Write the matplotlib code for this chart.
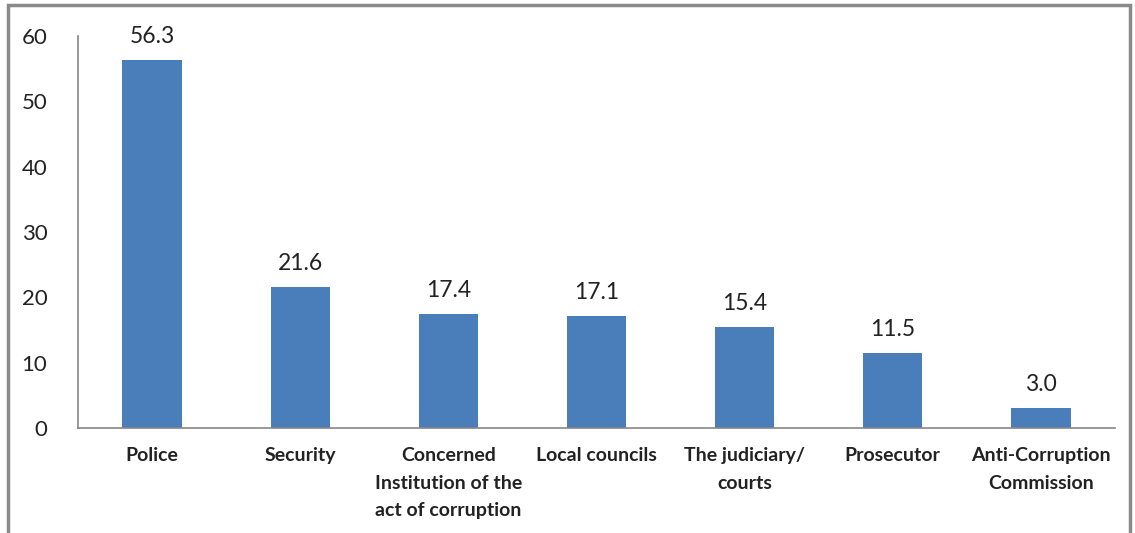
import matplotlib
matplotlib.use("Agg")
import matplotlib.pyplot as plt
from matplotlib.patches import Rectangle

categories = ["Police", "Security", "Concerned\nInstitution of the\nact of corruption",
              "Local councils", "The judiciary/\ncourts", "Prosecutor",
              "Anti-Corruption\nCommission"]
values = [56.3, 21.6, 17.4, 17.1, 15.4, 11.5, 3.0]
yticks = [0, 10, 20, 30, 40, 50, 60]

plt.rcParams['font.family'] = ['Lato', 'DejaVu Sans']

fig = plt.figure(figsize=(11.35, 5.33), dpi=100)
ax = fig.add_axes([78 / 1135, 1 - 428 / 533, (1115 - 78) / 1135, (428 - 36) / 533])

x = range(len(categories))
ax.bar(x, values, width=0.4, color="#4A7EBB")

# value labels above bars
for i, v in zip(x, values):
    ax.text(i, v + 2.0, f"{v:.1f}", ha="center", va="bottom", fontsize=16.5, color="#222222")

ax.set_xlim(-0.5, len(categories) - 0.5)
ax.set_ylim(0, 60)
ax.set_yticks(yticks)
ax.set_xticks(list(x))
ax.set_xticklabels(categories, fontsize=14, fontweight="bold", color="#222222", linespacing=1.75)
ax.tick_params(axis='y', length=0, labelsize=16, labelcolor="#222222", pad=22)
ax.tick_params(axis='x', length=0, pad=14)

for s in ["top", "right"]:
    ax.spines[s].set_visible(False)
for s in ["left", "bottom"]:
    ax.spines[s].set_color("#868686")
    ax.spines[s].set_linewidth(1.2)

# outer frame of the chart
fig.patches.append(Rectangle((8 / 1135, -0.02), (1130 - 8) / 1135, 1 - 5 / 533 + 0.02,
                             transform=fig.transFigure, fill=False,
                             edgecolor="#8a8a8a", linewidth=2.5))

fig.savefig("out.png", dpi=100)
